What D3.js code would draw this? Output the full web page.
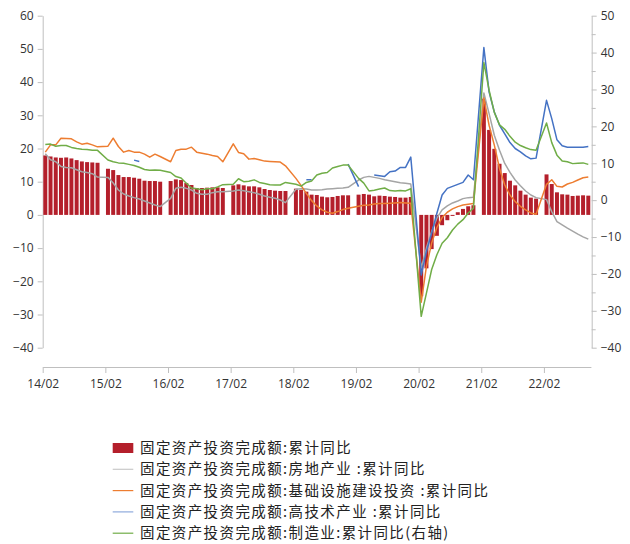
<!DOCTYPE html>
<html>
<head>
<meta charset="utf-8">
<script src="https://cdn.jsdelivr.net/npm/d3@7"></script>
<style>
  body { margin: 0; background: #fff; }
  svg { display: block; }
  .axis text { font-family: "Open Sans", "Noto Sans", sans-serif; font-size: 12px; fill: #333; }
  .axis path, .axis line { stroke: #bfbfbf; }
  .legend text { font-family: "Noto Sans CJK SC", sans-serif; font-size: 14.5px; letter-spacing: 1.4px; fill: #222; }
</style>
</head>
<body>
<svg id="chart" width="630" height="544"></svg>
<script>
// months: Feb 2014 .. Oct 2022, January has no data (Jan-Feb reported together)
const allMonths = d3.timeMonth.range(new Date(2014, 1, 1), new Date(2022, 10, 1));
const dataMonths = allMonths.filter(d => d.getMonth() !== 0);
const xTickLabels = ['14/02', '15/02', '16/02', '17/02', '18/02', '19/02', '20/02', '21/02', '22/02'];

// 固定资产投资完成额:累计同比 (bars, left axis)
const faiTotal = [
  17.9, 17.6, 17.3, 17.2, 17.3, 17.0, 16.5, 16.1, 15.9, 15.8, 15.7,
  13.9, 13.5, 12.0, 11.4, 11.4, 11.2, 10.9, 10.3, 10.2, 10.2, 10.0,
  10.2, 10.7, 10.5, 9.6, 9.0, 8.1, 8.1, 8.2, 8.3, 8.3, 8.1,
  8.9, 9.2, 8.9, 8.6, 8.6, 8.3, 7.8, 7.5, 7.3, 7.2, 7.2,
  7.9, 7.5, 7.0, 6.1, 6.0, 5.5, 5.3, 5.4, 5.7, 5.9, 5.9,
  6.1, 6.3, 6.1, 5.6, 5.8, 5.7, 5.5, 5.4, 5.2, 5.2, 5.4,
  -24.5, -16.1, -10.3, -6.3, -3.1, -1.6, -0.3, 0.8, 1.8, 2.6, 2.9,
  35.0, 25.6, 19.9, 15.4, 12.6, 10.3, 8.9, 7.3, 6.1, 5.2, 4.9,
  12.2, 9.3, 6.8, 6.2, 6.1, 5.7, 5.8, 5.9, 5.8
];

// 房地产业 (left axis)
const realEstate = [
  18.4, 16.6, 16.0, 14.6, 14.3, 14.2, 13.6, 13.0, 12.8, 12.4, 11.4,
  11.3, 9.6, 7.5, 6.3, 5.7, 5.2, 4.8, 4.2, 3.6, 3.0, 2.5,
  5.0, 8.0, 8.3, 8.0, 7.5, 6.5, 6.2, 6.2, 6.7, 7.0, 7.0,
  7.2, 7.5, 7.3, 7.0, 6.7, 6.2, 5.7, 5.3, 5.0, 4.5, 3.7,
  7.7, 7.9, 7.8, 7.5, 7.5, 7.6, 7.8, 7.9, 8.0, 8.1, 8.3,
  10.5, 11.3, 11.6, 11.3, 11.0, 10.6, 10.3, 10.0, 9.7, 9.5, 9.3,
  -16.0, -10.0, -5.0, -1.0, 1.5, 2.7, 3.6, 4.2, 4.9, 5.2, 5.3,
  36.7, 30.5, 24.0, 19.5, 15.5, 12.8, 10.5, 8.8, 7.2, 6.0, 5.2,
  4.6, 1.0, -2.0, -3.0, -4.0, -4.9, -5.8, -6.6, -7.3
];

// 基础设施建设投资 (left axis)
const infra = [
  18.9, 21.1, 21.1, 23.1, 23.0, 22.9, 22.0, 21.3, 21.6, 21.1, 20.5,
  20.7, 23.1, 20.6, 18.9, 19.4, 18.9, 18.9, 18.3, 17.4, 18.3, 17.6,
  16.0, 19.4, 19.8, 19.8, 20.4, 18.9, 18.6, 18.3, 17.9, 17.6, 16.0,
  21.4, 18.8, 18.4, 16.8, 17.0, 16.6, 16.2, 16.1, 16.0, 15.9, 14.8,
  11.0, 8.8, 6.5, 4.3, 2.7, 1.5, 0.8, 0.5, 1.0, 1.6, 2.0,
  2.6, 2.9, 3.0, 3.3, 3.4, 3.4, 3.5, 3.6, 3.7, 3.6, 3.5,
  -26.3, -15.5, -8.5, -3.8, -0.8, 0.8, 1.8, 2.5, 3.0, 3.2, 3.4,
  35.2, 27.0, 21.0, 14.0, 9.0, 6.0, 4.0, 2.6, 1.5, 0.6, 0.2,
  9.2, 10.6, 8.6, 8.4, 9.3, 9.8, 10.5, 11.2, 11.4
];

// 高技术产业 (left axis), gaps where no value was published
const hiTech = [
  null, null, null, null, null, null, null, null, null, null, null,
  null, null, null, null, null, 16.5, 16.1, null, null, null, null,
  null, null, null, null, null, null, null, null, null, null, null,
  null, null, null, null, null, null, null, null, null, null, null,
  null, null, 10.6, 10.6, null, null, null, null, null, null, 15.3,
  8.5, null, null, 12.0, 11.8, 11.6, 13.0, 13.2, 14.3, 14.3, 17.4,
  -18.1, -11.0, -5.5, 0.5, 6.0, 8.0, 8.6, 9.2, 9.8, 12.0, 10.6,
  50.4, 37.0, 31.0, 27.0, 24.4, 21.8, 20.0, 19.0, 17.8, 16.9, 17.1,
  34.5, 29.0, 22.6, 20.8, 20.4, 20.4, 20.4, 20.4, 20.6
];

// 制造业 (right axis)
const manufacturing = [
  15.1, 15.2, 14.6, 14.8, 14.8, 14.3, 14.0, 13.8, 13.7, 13.5, 13.5,
  10.9, 10.4, 10.1, 10.0, 9.7, 9.4, 8.9, 8.3, 8.1, 8.2, 8.1,
  7.5, 6.4, 6.0, 4.6, 3.3, 3.1, 2.8, 3.1, 3.1, 3.6, 4.2,
  4.3, 5.8, 5.0, 5.1, 5.5, 4.8, 4.5, 4.2, 4.1, 4.1, 4.8,
  4.3, 3.8, 4.8, 5.2, 6.8, 7.3, 7.5, 8.7, 9.1, 9.5, 9.5,
  5.9, 4.6, 2.5, 2.7, 3.0, 3.3, 2.6, 2.5, 2.6, 2.5, 3.1,
  -31.5, -25.2, -18.8, -14.8, -11.7, -10.2, -8.1, -6.5, -5.3, -3.5, -2.2,
  37.3, 29.8, 23.8, 20.4, 19.2, 17.3, 15.7, 14.8, 14.2, 13.7, 13.5,
  20.9, 15.6, 12.2, 10.6, 10.4, 9.9, 10.0, 10.1, 9.7
];

const leftTicks = d3.range(-40, 61, 10);
const rightTicks = d3.range(-40, 51, 10);

const legendNames = [
  '固定资产投资完成额:累计同比',
  '固定资产投资完成额:房地产业 :累计同比',
  '固定资产投资完成额:基础设施建设投资 :累计同比',
  '固定资产投资完成额:高技术产业 :累计同比',
  '固定资产投资完成额:制造业:累计同比(右轴)'
];

const svg = d3.select('#chart');
const plot = { left: 42.7, right: 590.9, top: 15.7, bottom: 347.7, xAxisY: 367 };
const colors = { bar: '#b41f2b', gray: '#a5a5a5', orange: '#ed7d31', blue: '#4472c4', green: '#70ad47' };

const key = d => d3.timeFormat('%Y-%m')(d);

// band scale over every month so Januaries leave a gap
const x = d3.scaleBand().domain(allMonths.map(key)).range([plot.left, plot.right]).paddingInner(0).paddingOuter(0);
const step = x.step();
const xIdx = d3.scaleLinear().domain([0, allMonths.length]).range([plot.left, plot.right]);

const yL = d3.scaleLinear().domain([-40, 60]).range([plot.bottom, plot.top]);
const yR = d3.scaleLinear().domain([-40, 50]).range([plot.bottom, plot.top]);

// axes
svg.append('g').attr('class', 'axis')
  .attr('transform', `translate(${plot.left},0)`)
  .call(d3.axisLeft(yL).tickValues(leftTicks).tickSize(5).tickSizeOuter(0).tickPadding(4));

svg.append('g').attr('class', 'axis')
  .attr('transform', `translate(${plot.right + 0.8},0)`)
  .call(d3.axisRight(yR).tickValues(rightTicks).tickSize(5).tickSizeOuter(0).tickPadding(4));

svg.append('g').attr('class', 'axis minor')
  .attr('transform', `translate(${plot.right + 0.8},0)`)
  .call(d3.axisRight(yR).tickValues(d3.range(-35, 50, 10)).tickSize(4).tickSizeOuter(0).tickFormat(''))
  .select('.domain').remove();

svg.append('g').attr('class', 'axis')
  .attr('transform', `translate(0,${plot.xAxisY})`)
  .call(d3.axisBottom(xIdx).tickValues(d3.range(0, 97, 12)).tickSize(6).tickSizeOuter(0).tickPadding(6)
    .tickFormat((d, i) => xTickLabels[i]));

// bars
const barW = step * 0.76;
svg.append('g')
  .selectAll('rect')
  .data(dataMonths.map((d, i) => ({ m: key(d), v: faiTotal[i] })))
  .enter()
  .append('rect')
  .attr('x', d => x(d.m) + (step - barW) / 2)
  .attr('y', d => yL(Math.max(0, d.v)))
  .attr('width', barW)
  .attr('height', d => Math.abs(yL(d.v) - yL(0)))
  .attr('fill', colors.bar);

// lines (January rows are absent, so the line runs across them)
const series = [
  { values: realEstate, y: yL, color: colors.gray },
  { values: infra, y: yL, color: colors.orange },
  { values: hiTech, y: yL, color: colors.blue },
  { values: manufacturing, y: yR, color: colors.green }
];

series.forEach(s => {
  const pts = dataMonths.map((d, i) => ({ m: key(d), v: s.values[i] }));
  const line = d3.line()
    .defined(d => d.v != null)
    .x(d => x(d.m) + step / 2)
    .y(d => s.y(d.v));
  svg.append('path')
    .datum(pts)
    .attr('fill', 'none')
    .attr('stroke', s.color)
    .attr('stroke-width', 1.5)
    .attr('stroke-linejoin', 'round')
    .attr('d', line);
});

// legend
const legend = svg.append('g').attr('class', 'legend');
const legendColors = [colors.bar, '#c9c9c9', colors.orange, '#8faadc', colors.green];
legendNames.forEach((name, i) => {
  const cy = 448 + i * 21.3;
  if (i === 0) {
    legend.append('rect').attr('x', 112.7).attr('y', cy - 5).attr('width', 20.6).attr('height', 10).attr('fill', legendColors[i]);
  } else {
    legend.append('line').attr('x1', 112.7).attr('x2', 133.3).attr('y1', cy).attr('y2', cy)
      .attr('stroke', legendColors[i]).attr('stroke-width', 1.2);
  }
  legend.append('text').attr('x', 140).attr('y', cy).attr('dy', '0.35em').text(name);
});
</script>
</body>
</html>
